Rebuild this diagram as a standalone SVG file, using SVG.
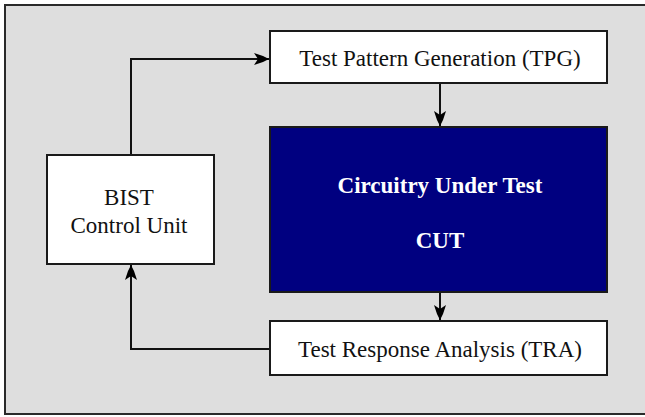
<svg xmlns="http://www.w3.org/2000/svg" width="645" height="417" viewBox="0 0 645 417">
<style>
.box{fill:#ffffff;stroke:#1a1a1a;stroke-width:2}
.lbl{font-family:"Liberation Serif","Times New Roman",serif;font-size:23px;fill:#111;text-anchor:middle}
.cut{font-family:"Liberation Serif","Times New Roman",serif;font-size:23px;font-weight:bold;fill:#ffffff;text-anchor:middle}
.wire{fill:none;stroke:#111;stroke-width:2}
</style>
<defs>
<marker id="arr" viewBox="-16 -7 18 14" refX="0" refY="0" markerWidth="18" markerHeight="14" markerUnits="userSpaceOnUse" orient="auto">
<path d="M0,0 L-6,-3 L-15,-6 L-11,0 L-15,6 L-6,3 Z" fill="#000"/>
</marker>
</defs>
<rect x="0" y="0" width="645" height="417" fill="#ffffff"/>
<rect x="5" y="5" width="660" height="409" fill="#dedede" stroke="#2a2a2a" stroke-width="2"/>
<g id="connectors">
<polyline class="wire" points="131,155 131,59 269,59" marker-end="url(#arr)"/>
<line class="wire" x1="440" y1="83" x2="440" y2="126" marker-end="url(#arr)"/>
<line class="wire" x1="440" y1="292" x2="440" y2="320" marker-end="url(#arr)"/>
<polyline class="wire" points="270,349 131,349 131,265" marker-end="url(#arr)"/>
</g>
<g id="tpg">
<rect class="box" x="270" y="31" width="337" height="52"/>
<text class="lbl" x="440" y="66">Test Pattern Generation (TPG)</text>
</g>
<g id="cut">
<rect x="270" y="127" width="337" height="165" fill="#000080" stroke="#1a1a1a" stroke-width="2"/>
<text class="cut" x="440" y="193">Circuitry Under Test</text>
<text class="cut" x="440" y="248">CUT</text>
</g>
<g id="bist">
<rect class="box" x="47" y="155" width="167" height="109"/>
<text class="lbl" x="129" y="205">BIST</text>
<text class="lbl" x="129" y="233">Control Unit</text>
</g>
<g id="tra">
<rect class="box" x="270" y="321" width="337" height="54"/>
<text class="lbl" x="440" y="357">Test Response Analysis (TRA)</text>
</g>
</svg>
